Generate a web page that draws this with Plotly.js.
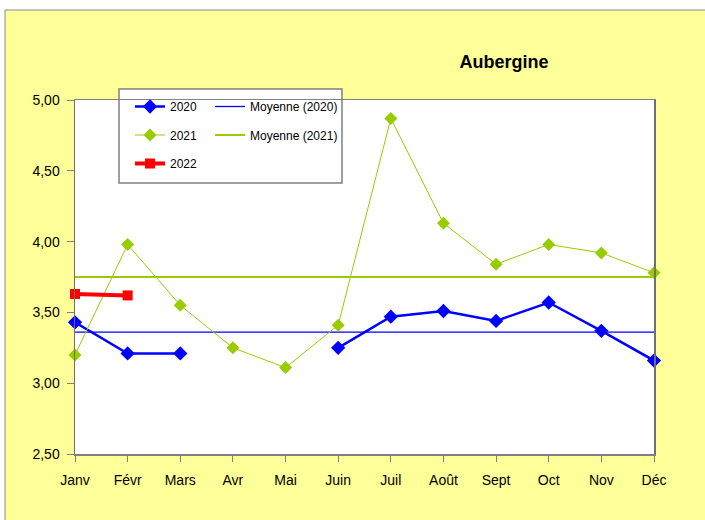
<!DOCTYPE html>
<html>
<head>
<meta charset="utf-8">
<script src="https://cdn.plot.ly/plotly-3.0.1.min.js"></script>
<style>html,body{margin:0;padding:0;background:#fff;}#chart{width:705px;height:520px;}</style>
</head>
<body>
<div id="chart"></div>
<script>
var months = ['Janv','Févr','Mars','Avr','Mai','Juin','Juil','Août','Sept','Oct','Nov','Déc'];
var values2020 = [3.43, 3.21, 3.21, null, null, 3.25, 3.47, 3.51, 3.44, 3.57, 3.37, 3.16];
var values2021 = [3.20, 3.98, 3.55, 3.25, 3.11, 3.41, 4.87, 4.13, 3.84, 3.98, 3.92, 3.78];
var values2022 = [3.63, 3.62];
var moyenne2020 = [3.36, 3.36];
var moyenne2021 = [3.75, 3.75];
var meanMonths = [months[0], months[11]];
var yTicks = [2.5, 3.0, 3.5, 4.0, 4.5, 5.0];

var W = 705, H = 520, L = 75, R = 51, T = 100, B = 66;
var pw = W - L - R, ph = H - T - B;
function px(x){ return (x - L) / pw; }
function py(y){ return (H - B - y) / ph; }

var font = 'Liberation Sans, Arial, sans-serif';
var blue = '#0000FF', green = '#99CC00', red = '#FF0000';

var traces = [
  {x: months, y: values2020, name: '2020', type: 'scatter', mode: 'lines+markers',
   line: {color: blue, width: 2.5}, marker: {symbol: 'diamond', size: 11, color: blue},
   connectgaps: false, cliponaxis: false, legend: 'legend', legendgroup: 'a'},
  {x: meanMonths, y: moyenne2020, name: 'Moyenne (2020)', type: 'scatter', mode: 'lines',
   line: {color: blue, width: 1.3}, legend: 'legend2', legendgroup: 'd'},
  {x: months, y: values2021, name: '2021', type: 'scatter', mode: 'lines+markers',
   line: {color: green, width: 1}, marker: {symbol: 'diamond', size: 10, color: green},
   cliponaxis: false, legend: 'legend', legendgroup: 'b'},
  {x: meanMonths, y: moyenne2021, name: 'Moyenne (2021)', type: 'scatter', mode: 'lines',
   line: {color: green, width: 2}, legend: 'legend2', legendgroup: 'e'},
  {x: months.slice(0, 2), y: values2022, name: '2022', type: 'scatter', mode: 'lines+markers',
   line: {color: red, width: 4}, marker: {symbol: 'square', size: 10, color: red},
   cliponaxis: false, legend: 'legend', legendgroup: 'c'}
];

var legendCommon = {
  bgcolor: 'rgba(0,0,0,0)', borderwidth: 0, orientation: 'v',
  font: {family: font, size: 12, color: '#000'}, tracegroupgap: 9.5,
  xanchor: 'left', yanchor: 'top'
};

var layout = {
  width: W, height: H,
  margin: {l: L, r: R, t: T, b: B, pad: 0},
  paper_bgcolor: '#FFFF99',
  plot_bgcolor: '#FFFFFF',
  separators: ', ',
  showlegend: true,
  font: {family: font, size: 14, color: '#000'},
  title: {text: 'Aubergine', font: {family: font, size: 18, color: '#000', weight: 'bold'},
          x: 504 / W, xanchor: 'center', xref: 'container', y: 1 - 62 / H, yanchor: 'middle', yref: 'container'},
  xaxis: {type: 'category', categoryorder: 'array', categoryarray: months,
          range: [0, 11], showgrid: false, zeroline: false,
          showline: true, mirror: true, linecolor: '#808080', linewidth: 1.5,
          ticks: 'outside', ticklen: 6, tickcolor: '#808080', tickwidth: 1,
          ticklabelstandoff: 7, tickfont: {family: font, size: 14, color: '#000'}, fixedrange: true},
  yaxis: {range: [2.5, 5.0], tickvals: yTicks, tickformat: '.2f', showgrid: false, zeroline: false,
          showline: true, mirror: true, linecolor: '#707070', linewidth: 1.5,
          ticks: 'outside', ticklen: 7, tickcolor: '#808080', tickwidth: 1,
          ticklabelstandoff: 4, tickfont: {family: font, size: 14, color: '#000'}, fixedrange: true},
  legend: Object.assign({}, legendCommon, {x: px(130), y: py(92)}),
  legend2: Object.assign({}, legendCommon, {x: px(210), y: py(92)}),
  shapes: [
    {type: 'rect', xref: 'paper', yref: 'paper', x0: px(-10), x1: px(720), y0: py(10), y1: py(-10),
     fillcolor: '#FFFFFF', line: {width: 0}, layer: 'below'},
    {type: 'rect', xref: 'paper', yref: 'paper', x0: px(-10), x1: px(5), y0: py(530), y1: py(-10),
     fillcolor: '#FFFFFF', line: {width: 0}, layer: 'below'},
    {type: 'line', xref: 'paper', yref: 'paper', x0: px(5), x1: px(720), y0: py(10), y1: py(10),
     line: {color: '#8C8C8C', width: 1}, layer: 'below'},
    {type: 'line', xref: 'paper', yref: 'paper', x0: px(5), x1: px(5), y0: py(10), y1: py(530),
     line: {color: '#8C8C8C', width: 1}, layer: 'below'},
    {type: 'rect', xref: 'paper', yref: 'paper', x0: px(119), x1: px(342), y0: py(89), y1: py(183),
     fillcolor: '#FFFFFF', line: {color: '#808080', width: 1.5}, layer: 'below'}
  ]
};

Plotly.newPlot('chart', traces, layout, {displayModeBar: false, staticPlot: true});
</script>
</body>
</html>
